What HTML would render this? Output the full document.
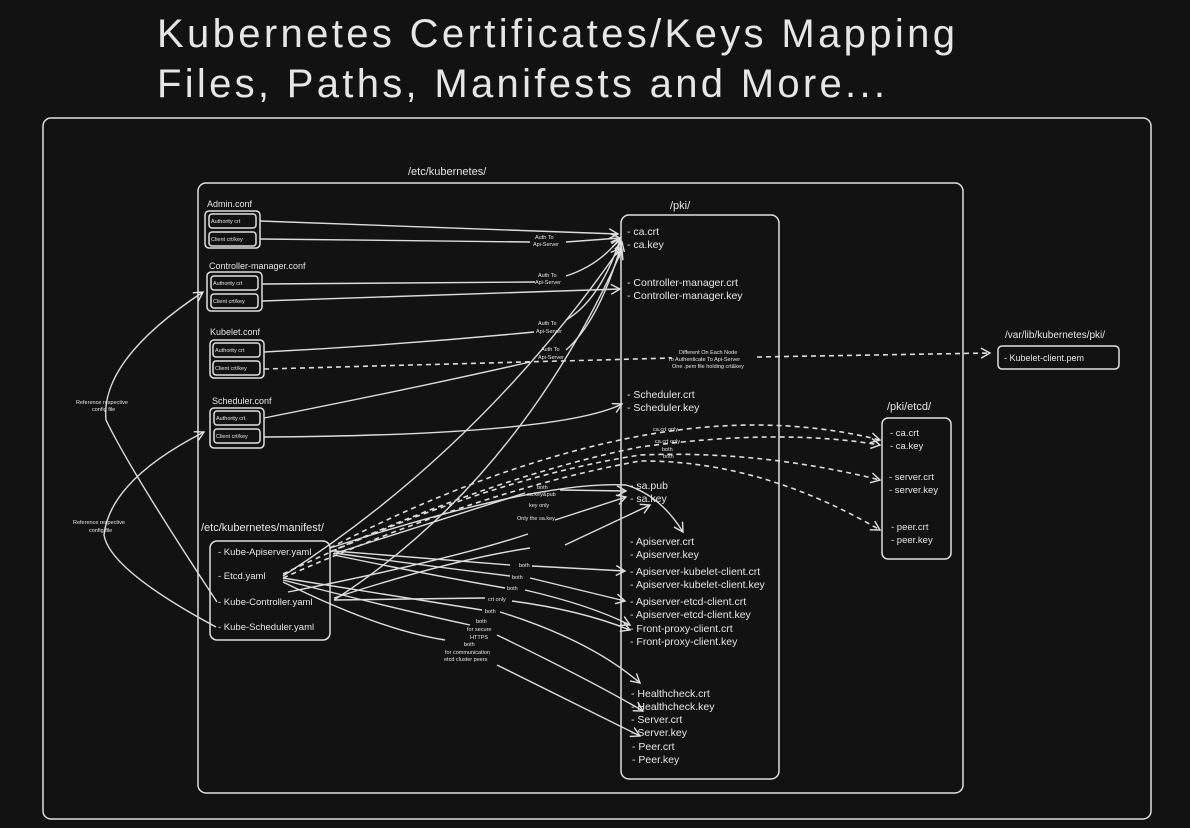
<!DOCTYPE html>
<html><head><meta charset="utf-8"><style>
html,body{margin:0;padding:0;background:#121212;}
svg{display:block}
text{font-family:"Liberation Sans",sans-serif;fill:#e6e6e6}
.t{font-size:10.5px}
.s{font-size:5.5px}
.b{fill:none;stroke:#e0e0e0;stroke-width:1.5}
.a{fill:none;stroke:#dcdcdc;stroke-width:1.4;marker-end:url(#ar)}
.d{fill:none;stroke:#dcdcdc;stroke-width:1.6;stroke-dasharray:5 4;marker-end:url(#ar)}
</style></head><body>
<svg width="1190" height="828" viewBox="0 0 1190 828" xmlns="http://www.w3.org/2000/svg">
<defs><marker id="ar" markerWidth="12" markerHeight="12" refX="10" refY="6" orient="auto" markerUnits="userSpaceOnUse"><path d="M1,1 L10,6 L1,11" fill="none" stroke="#e0e0e0" stroke-width="1.4"/></marker></defs>
<rect width="1190" height="828" fill="#121212"/>
<text x="157" y="47" style="font-size:40px" textLength="798" lengthAdjust="spacing">Kubernetes Certificates/Keys Mapping</text>
<text x="157" y="97" style="font-size:40px" textLength="728" lengthAdjust="spacing">Files, Paths, Manifests and More...</text>
<rect class="b" x="43" y="118" width="1108" height="701" rx="8"/>
<text x="408" y="175" style="font-size:11px">/etc/kubernetes/</text>
<rect class="b" x="198" y="183" width="765" height="610" rx="8"/>
<text x="670" y="209" style="font-size:11px">/pki/</text>
<rect class="b" x="621" y="215" width="158" height="564" rx="8"/>
<g class="t">
<text x="627" y="235">- ca.crt</text><text x="627" y="248">- ca.key</text>
<text x="627" y="286">- Controller-manager.crt</text><text x="627" y="299">- Controller-manager.key</text>
<text x="627" y="398">- Scheduler.crt</text><text x="627" y="411">- Scheduler.key</text>
<text x="630" y="489">- sa.pub</text><text x="630" y="502">- sa.key</text>
<text x="630" y="545">- Apiserver.crt</text><text x="630" y="558">- Apiserver.key</text>
<text x="630" y="575">- Apiserver-kubelet-client.crt</text><text x="630" y="588">- Apiserver-kubelet-client.key</text>
<text x="630" y="605">- Apiserver-etcd-client.crt</text><text x="630" y="618">- Apiserver-etcd-client.key</text>
<text x="630" y="632">- Front-proxy-client.crt</text><text x="630" y="645">- Front-proxy-client.key</text>
<text x="631" y="697">- Healthcheck.crt</text><text x="631" y="710">- Healthcheck.key</text>
<text x="631" y="723">- Server.crt</text><text x="631" y="736">- Server.key</text>
<text x="632" y="750">- Peer.crt</text><text x="632" y="763">- Peer.key</text>
</g>
<text x="207" y="207" style="font-size:9px">Admin.conf</text>
<rect class="b" x="205" y="211" width="55" height="37" rx="4"/>
<rect class="b" x="209" y="214" width="47" height="14" rx="3"/><rect class="b" x="209" y="232" width="47" height="14" rx="3"/>
<text class="s" x="211" y="223">Authority crt</text><text class="s" x="211" y="241">Client crt/key</text>
<text x="209" y="269" style="font-size:9px">Controller-manager.conf</text>
<rect class="b" x="207" y="272" width="55" height="39" rx="4"/>
<rect class="b" x="211" y="276" width="47" height="14" rx="3"/><rect class="b" x="211" y="294" width="47" height="14" rx="3"/>
<text class="s" x="213" y="285">Authority crt</text><text class="s" x="213" y="303">Client crt/key</text>
<text x="210" y="335" style="font-size:9px">Kubelet.conf</text>
<rect class="b" x="210" y="340" width="54" height="38" rx="4"/>
<rect class="b" x="213" y="343" width="47" height="14" rx="3"/><rect class="b" x="213" y="361" width="47" height="14" rx="3"/>
<text class="s" x="215" y="352">Authority crt</text><text class="s" x="215" y="370">Client crt/key</text>
<text x="212" y="404" style="font-size:9px">Scheduler.conf</text>
<rect class="b" x="210" y="408" width="54" height="40" rx="4"/>
<rect class="b" x="214" y="411" width="46" height="14" rx="3"/><rect class="b" x="214" y="429" width="46" height="14" rx="3"/>
<text class="s" x="216" y="420">Authority crt</text><text class="s" x="216" y="438">Client crt/key</text>
<text x="201" y="531" style="font-size:11px">/etc/kubernetes/manifest/</text>
<rect class="b" x="210" y="541" width="120" height="99" rx="7"/>
<g style="font-size:9.5px">
<text x="218" y="555">- Kube-Apiserver.yaml</text>
<text x="218" y="579">- Etcd.yaml</text>
<text x="218" y="605">- Kube-Controller.yaml</text>
<text x="218" y="630">- Kube-Scheduler.yaml</text>
</g>
<text x="1005" y="338" style="font-size:10px">/var/lib/kubernetes/pki/</text>
<rect class="b" x="998" y="346" width="121" height="23" rx="4"/>
<text x="1004" y="361" style="font-size:9px">- Kubelet-client.pem</text>
<text x="887" y="410" style="font-size:11px">/pki/etcd/</text>
<rect class="b" x="882" y="418" width="69" height="141" rx="6"/>
<g style="font-size:9.5px">
<text x="890" y="436">- ca.crt</text><text x="890" y="449">- ca.key</text>
<text x="889" y="480">- server.crt</text><text x="889" y="493">- server.key</text>
<text x="891" y="530">- peer.crt</text><text x="891" y="543">- peer.key</text>
</g>
<path class="a" d="M260,221 L618,234"/>
<path class="a" d="M260,239 L530,242 M566,242 L620,238"/>
<path class="a" d="M262,284 L535,282 M566,276 Q600,265 620,238"/>
<path class="a" d="M262,301 Q450,295 620,289"/>
<path class="a" d="M264,352 Q400,345 534,332 M566,320 Q600,300 620,240"/>
<path class="d" d="M264,369 L672,358 M757,357 L990,353"/>
<path class="a" d="M264,418 Q430,385 530,362 M566,350 Q600,320 622,242"/>
<path class="a" d="M264,437 Q560,435 622,404"/>
<g class="s"><text x="535" y="239">Auth To</text><text x="533" y="246">Api-Server</text>
<text x="538" y="277">Auth To</text><text x="535" y="284">Api-Server</text>
<text x="538" y="325">Auth To</text><text x="536" y="333">Api-Server</text>
<text x="541" y="351">Auth To</text><text x="538" y="359">Api-Server</text>
<text x="679" y="354">Different On Each Node</text><text x="668" y="361">To Authenticate To Api-Server</text><text x="672" y="368">One .pem file holding crt&amp;key</text>
<text x="76" y="404">Reference respective</text><text x="92" y="411">config file</text>
<text x="73" y="524">Reference respective</text><text x="89" y="532">config file</text></g>
<path class="a" d="M217,602 Q130,470 106,420 Q100,360 203,292"/>
<path class="a" d="M216,627 Q110,570 104,535 Q110,480 204,432"/>
<path class="a" d="M283,576 Q480,450 620,248"/>
<path class="a" d="M334,600 Q520,480 622,250"/>
<path class="a" d="M330,548 Q540,480 626,485 Q660,495 683,532"/>
<path class="a" d="M333,554 L525,493 M560,490 L626,491"/>
<path class="a" d="M288,592 Q450,560 528,534 M555,520 L626,497"/>
<path class="a" d="M334,598 Q450,560 530,548 M565,545 L650,505"/>
<path class="a" d="M334,551 L510,565 M532,566 L625,571"/>
<path class="a" d="M334,553 Q420,565 510,576 M530,578 Q580,590 625,601"/>
<path class="a" d="M334,555 Q430,575 505,588 M525,590 Q590,605 630,625"/>
<path class="a" d="M334,600 L485,598 M512,601 Q580,610 630,630"/>
<path class="a" d="M283,578 Q420,600 482,610 M500,612 Q590,640 640,683"/>
<path class="a" d="M283,580 Q400,610 470,625 M497,635 Q590,680 643,711"/>
<path class="a" d="M283,582 Q380,630 445,640 M497,665 L640,736"/>
<g class="s"><text x="537" y="489">both</text><text x="527" y="496">sa.key&amp;pub</text><text x="529" y="507">key only</text><text x="517" y="520">Only the sa.key</text>
<text x="519" y="567">both</text><text x="512" y="579">both</text><text x="507" y="590">both</text><text x="488" y="601">crt only</text>
<text x="485" y="613">both</text><text x="476" y="623">both</text><text x="467" y="631">for secure</text><text x="470" y="639">HTTPS</text>
<text x="464" y="646">both</text><text x="445" y="654">for communication</text><text x="444" y="661">etcd cluster peers</text></g>
<path class="d" d="M330,548 Q480,470 620,440 Q760,410 880,440"/>
<path class="d" d="M330,552 Q500,475 640,447 Q780,428 880,445"/>
<path class="d" d="M283,574 Q480,480 640,455 Q760,450 880,480"/>
<path class="d" d="M283,578 Q480,490 640,461 Q760,460 880,530"/>
<g class="s"><text x="653" y="431">ca.crt only</text><text x="655" y="443">ca.crt only</text><text x="662" y="451">both</text><text x="663" y="458">both</text></g>
</svg>
</body></html>
